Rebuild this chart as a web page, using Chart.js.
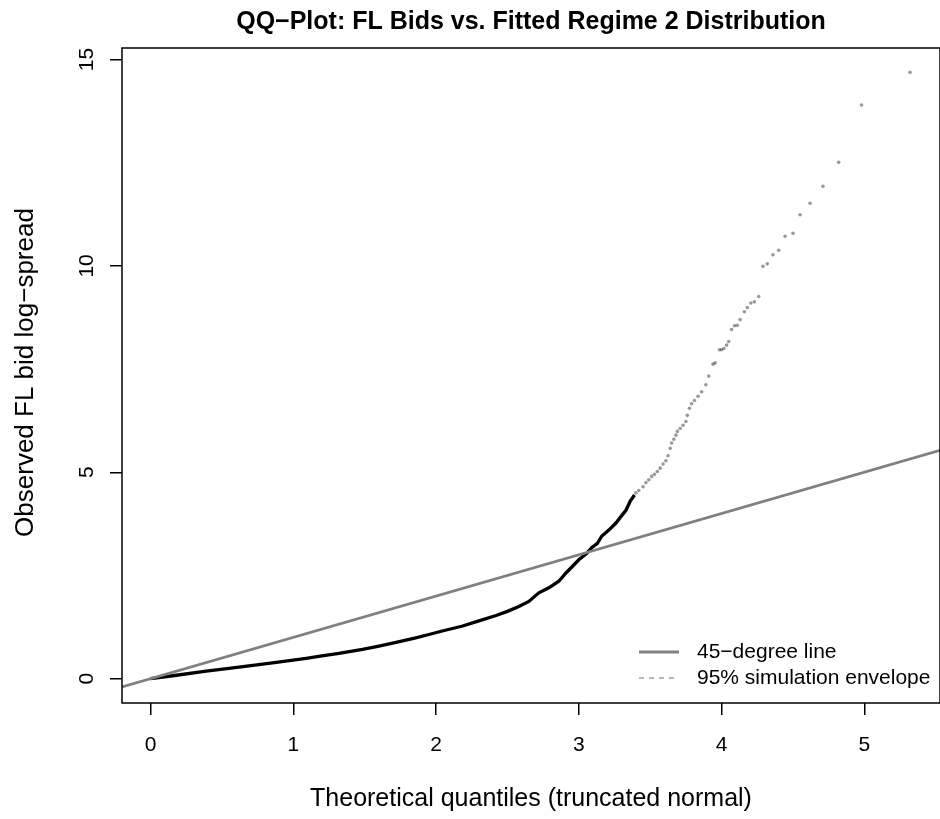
<!DOCTYPE html>
<html>
<head>
<meta charset="utf-8">
<script src="https://cdn.jsdelivr.net/npm/chart.js@4.4.1/dist/chart.umd.min.js"></script>
<style>
  html, body { margin: 0; padding: 0; background: #fff; overflow: hidden; }
  #wrap { position: relative; width: 944px; height: 819px; }
</style>
</head>
<body>
<div id="wrap"><canvas id="qq"></canvas></div>
<script>
// QQ plot of observed FL bid log-spreads vs. fitted truncated normal (regime 2)

const chartTitle = "QQ\u2212Plot: FL Bids vs. Fitted Regime 2 Distribution";
const xTitle = "Theoretical quantiles (truncated normal)";
const yTitle = "Observed FL bid log\u2212spread";

const xTicks = [0, 1, 2, 3, 4, 5];
const yTicks = [0, 5, 10, 15];
const xRange = [-0.2, 5.53];
const yRange = [-0.59, 15.28];

// 45-degree reference line (y = x across the plot)
const refLineX = [-0.2, 5.53];

// dense lower part of the sample (reads as a solid black curve)
const denseQ = [0, 0.156, 0.39, 0.62, 0.855, 1.09, 1.2, 1.32, 1.485, 1.6, 1.72, 1.85, 1.95, 2.05,
  2.18, 2.3, 2.42, 2.5, 2.58, 2.65, 2.72, 2.79, 2.86, 2.91, 3.0, 3.05, 3.09, 3.13, 3.16, 3.21, 3.26,
  3.30, 3.33, 3.36, 3.39];
const denseV = [0, 0.07, 0.18, 0.28, 0.38, 0.49, 0.55, 0.61, 0.71, 0.79, 0.88, 0.98, 1.07, 1.16,
  1.27, 1.40, 1.53, 1.63, 1.75, 1.87, 2.08, 2.20, 2.36, 2.56, 2.88, 3.02, 3.17, 3.28, 3.45, 3.60, 3.77,
  3.95, 4.08, 4.30, 4.45];

// sparse upper tail, individual points
const tailQ = [3.40, 3.42, 3.45, 3.47, 3.49, 3.51, 3.53, 3.55, 3.57, 3.59, 3.61, 3.625,
  3.64, 3.65, 3.665, 3.68, 3.69, 3.71, 3.73, 3.75, 3.76, 3.775, 3.79, 3.81, 3.835, 3.86, 3.89, 3.91,
  3.94, 3.955, 3.985, 4.00, 4.016, 4.035, 4.05, 4.07, 4.09, 4.11, 4.13, 4.16, 4.18, 4.205, 4.23,
  4.26, 4.29, 4.32, 4.36, 4.40, 4.445, 4.50, 4.55, 4.62, 4.71, 4.82, 4.98, 5.32];
const tailV = [4.50, 4.56, 4.65, 4.75, 4.82, 4.90, 4.95, 5.02, 5.10, 5.20, 5.28, 5.40,
  5.58, 5.71, 5.80, 5.90, 5.99, 6.06, 6.14, 6.23, 6.38, 6.55, 6.66, 6.74, 6.84, 6.95, 7.12, 7.33,
  7.62, 7.65, 7.97, 7.97, 8.00, 8.08, 8.17, 8.46, 8.55, 8.56, 8.70, 8.89, 8.99, 9.10, 9.13,
  9.26, 9.99, 10.05, 10.27, 10.38, 10.72, 10.79, 11.24, 11.52, 11.93, 12.51, 13.90, 14.69];

const FONT = "'Liberation Sans', Arial, Helvetica, sans-serif";

const toXY = (xs, ys) => xs.map((x, i) => ({ x, y: ys[i] }));

// box, tick labels and axis titles, R style
const rAxes = {
  id: "rAxes",
  afterDraw(chart) {
    const { ctx, chartArea: a, scales } = chart;
    ctx.save();
    ctx.strokeStyle = "#000";
    ctx.lineWidth = 1.5;
    ctx.strokeRect(a.left, a.top, a.right - a.left, a.bottom - a.top);

    ctx.fillStyle = "#000";
    ctx.textAlign = "center";
    ctx.textBaseline = "middle";
    ctx.font = "21px " + FONT;
    xTicks.forEach((v) => ctx.fillText(String(v), scales.x.getPixelForValue(v), a.bottom + 42.5));
    yTicks.forEach((v) => {
      ctx.save();
      ctx.translate(a.left - 35, scales.y.getPixelForValue(v));
      ctx.rotate(-Math.PI / 2);
      ctx.fillText(String(v), 0, 0);
      ctx.restore();
    });

    ctx.font = "25px " + FONT;
    ctx.fillText(xTitle, (a.left + a.right) / 2, 799);
    ctx.save();
    ctx.font = "26px " + FONT;
    ctx.translate(26, (a.top + a.bottom) / 2 - 3);
    ctx.rotate(-Math.PI / 2);
    ctx.fillText(yTitle, 0, 0);
    ctx.restore();

    ctx.font = "bold 25px " + FONT;
    ctx.fillText(chartTitle, (a.left + a.right) / 2, 22);
    ctx.restore();
  },
};

// borderless legend in the lower right corner
const rLegend = {
  id: "rLegend",
  afterDraw(chart) {
    const { ctx, chartArea: a } = chart;
    const items = chart.data.datasets.filter((d) => d.inLegend);
    ctx.save();
    ctx.font = "21px " + FONT;
    ctx.textAlign = "left";
    ctx.textBaseline = "middle";
    items.forEach((ds, i) => {
      const y = a.bottom - 51 + i * 26;
      const x0 = a.right - 301;
      ctx.strokeStyle = ds.borderColor;
      ctx.lineWidth = ds.borderWidth;
      ctx.setLineDash(ds.borderDash || []);
      ctx.beginPath();
      ctx.moveTo(x0, y);
      ctx.lineTo(x0 + 40, y);
      ctx.stroke();
      ctx.setLineDash([]);
      ctx.fillStyle = "#000";
      ctx.fillText(ds.label, x0 + 58, y);
    });
    ctx.restore();
  },
};

const axisCommon = (ticks) => ({
  type: "linear",
  afterBuildTicks: (s) => { s.ticks = ticks.map((value) => ({ value })); },
  grid: { drawOnChartArea: false, drawTicks: true, tickLength: 12, color: "#000", lineWidth: 1.5 },
  border: { display: false },
  ticks: { display: false },
});

new Chart(document.getElementById("qq"), {
  type: "scatter",
  data: {
    datasets: [
      {
        label: "45\u2212degree line",
        inLegend: true,
        data: refLineX.map((x) => ({ x, y: x })),
        showLine: true,
        borderColor: "#808080",
        borderWidth: 2.8,
        pointRadius: 0,
      },
      {
        label: "95% simulation envelope",
        inLegend: true,
        data: [],
        showLine: true,
        borderColor: "#707070",
        borderWidth: 1,
        borderDash: [5, 5],
        pointRadius: 0,
      },
      {
        label: "observed (dense)",
        data: toXY(denseQ, denseV),
        showLine: true,
        borderColor: "#000",
        borderWidth: 3.3,
        pointRadius: 0,
      },
      {
        label: "observed (tail)",
        data: toXY(tailQ, tailV),
        backgroundColor: "rgba(0,0,0,0.4)",
        borderWidth: 0,
        pointRadius: 1.8,
      },
    ],
  },
  options: {
    responsive: true,
    maintainAspectRatio: false,
    animation: false,
    events: [],
    layout: { padding: { top: 48, left: 122, right: 3, bottom: 116 } },
    plugins: { legend: { display: false }, tooltip: { enabled: false }, title: { display: false } },
    scales: {
      x: { ...axisCommon(xTicks), min: xRange[0], max: xRange[1],
        afterFit: (s) => { s.height = 0; } },
      y: { ...axisCommon(yTicks), min: yRange[0], max: yRange[1],
        afterFit: (s) => { s.width = 0; } },
    },
  },
  plugins: [rAxes, rLegend],
});
</script>
</body>
</html>
